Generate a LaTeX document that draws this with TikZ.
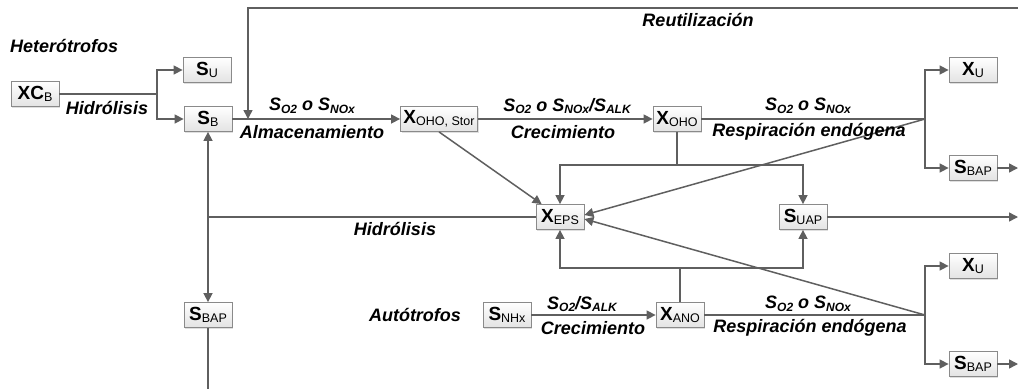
\documentclass[tikz,border=0pt]{standalone}
\usepackage{fontspec}
\setmainfont{Liberation Sans}
\usetikzlibrary{arrows.meta}
\usetikzlibrary{positioning}
\usetikzlibrary{shadows}

\definecolor{linegray}{HTML}{5F5F5F}
\definecolor{boxgray}{HTML}{8A8A8A}

\newcommand{\bsub}[1]{\raisebox{-1.5pt}{\fontsize{12.5}{12.5}\selectfont\mdseries #1}}
\newcommand{\lsub}[1]{\raisebox{-2.5pt}{\fontsize{12}{12}\selectfont #1}}

\tikzset{
    var/.style={rectangle, minimum width=48pt, minimum height=25pt, inner xsep=3pt, inner ysep=0pt, draw=boxgray, line width=0.8pt, top color=white, bottom color=gray!22, font=\fontsize{19}{19}\selectfont\bfseries, drop shadow={shadow xshift=1.2pt, shadow yshift=-1.2pt, opacity=0.25}},
    ln/.style={draw=linegray, line width=1.5pt},
    flow/.style={ln, -{Triangle[length=9pt, width=9pt]}},
    lbl/.style={font=\fontsize{18}{18}\selectfont\bfseries\itshape, inner sep=0pt},
}

\begin{document}
\begin{tikzpicture}[x=1pt, y=-1pt]
    \useasboundingbox (0,0) rectangle (1018,389);

    % heterotrofos
    \node [lbl, anchor=west] (het) at (10,46) {Heterótrofos};
    \node [var] (xcb) at (35,94) {XC\bsub{B}};
    \node [var] (su) at (207,70) {S\bsub{U}};
    \node [var] (sb) at (208,119) {S\bsub{B}};
    \node [var] (xstor) at (439,119) {X\bsub{OHO, Stor}};
    \node [var] (xoho) at (677,119) {X\bsub{OHO}};
    \node [var] (xu1) at (973,70) {X\bsub{U}};
    \node [var] (sbap1) at (973,168) {S\bsub{BAP}};
    \node [var] (xeps) at (560,217) {X\bsub{EPS}};
    \node [var] (suap) at (803,217) {S\bsub{UAP}};
    \node [var] (sbap0) at (208,315) {S\bsub{BAP}};

    % autotrofos
    \node [lbl] (aut) at (415,315) {Autótrofos};
    \node [var] (snhx) at (507,315) {S\bsub{NHx}};
    \node [var] (xano) at (680,315) {X\bsub{ANO}};
    \node [var] (xu2) at (973,266) {X\bsub{U}};
    \node [var] (sbap2) at (973,364) {S\bsub{BAP}};

    \coordinate (h1) at (157,94);
    \coordinate (j1) at (925,119);
    \coordinate (j2) at (925,315);
    \coordinate (t1) at (677,165);
    \coordinate (b1) at (680,268);
    \coordinate (hj) at (208,217);
    \coordinate (r1) at (1018,8);
    \coordinate (r2) at (248,8);
    \coordinate (r3) at (248,119);
    \coordinate (e1) at (1018,168);
    \coordinate (e2) at (1018,217);
    \coordinate (e3) at (1018,364);
    \coordinate (e4) at (208,389);

    % connectors
    \draw [ln] (xcb) -- (h1);
    \draw [flow] (h1) |- (su);
    \draw [flow] (h1) |- (sb);
    \draw [flow] (sb) -- (xstor);
    \draw [flow] (xstor) -- (xoho);
    \draw [ln] (xoho) -- (j1);
    \draw [flow] (j1) |- (xu1);
    \draw [flow] (j1) |- (sbap1);
    \draw [flow] (sbap1) -- (e1);
    \draw [flow] (r1) -- (r2) -- (r3);
    \draw [ln] (xoho) -- (t1);
    \draw [flow] (t1) -| (xeps);
    \draw [flow] (t1) -| (suap);
    \draw [flow] (xstor.south) -- (xeps);
    \draw [flow] (j1) -- ([yshift=2pt]xeps.east);
    \draw [flow] (j2) -- ([yshift=-2pt]xeps.east);
    \draw [flow] (suap) -- (e2);
    \draw [ln] (xeps) -- (hj);
    \draw [flow] (hj) -- (sb);
    \draw [flow] (hj) -- (sbap0);
    \draw [ln] (sbap0) -- (e4);
    \draw [flow] (snhx) -- (xano);
    \draw [ln] (xano) -- (b1);
    \draw [flow] (b1) -| (xeps);
    \draw [flow] (b1) -| (suap);
    \draw [ln] (xano) -- (j2);
    \draw [flow] (j2) |- (xu2);
    \draw [flow] (j2) |- (sbap2);
    \draw [flow] (sbap2) -- (e3);

    % labels
    \node [lbl] (l1) at (107,108) {Hidrólisis};
    \node [lbl] (l2) at (312,106) {S\lsub{O2} o S\lsub{NOx}};
    \node [lbl] (l3) at (312,132) {Almacenamiento};
    \node [lbl] (l4) at (567,106) {S\lsub{O2} o S\lsub{NOx}/S\lsub{ALK}};
    \node [lbl] (l5) at (563,132) {Crecimiento};
    \node [lbl] (l6) at (808,106) {S\lsub{O2} o S\lsub{NOx}};
    \node [lbl] (l7) at (809,132) {Respiración endógena};
    \node [lbl] (l8) at (698,20) {Reutilización};
    \node [lbl] (l9) at (395,229) {Hidrólisis};
    \node [lbl] (l10) at (582,304) {S\lsub{O2}/S\lsub{ALK}};
    \node [lbl] (l11) at (593,328) {Crecimiento};
    \node [lbl] (l12) at (808,304) {S\lsub{O2} o S\lsub{NOx}};
    \node [lbl] (l13) at (810,328) {Respiración endógena};
\end{tikzpicture}
\end{document}
